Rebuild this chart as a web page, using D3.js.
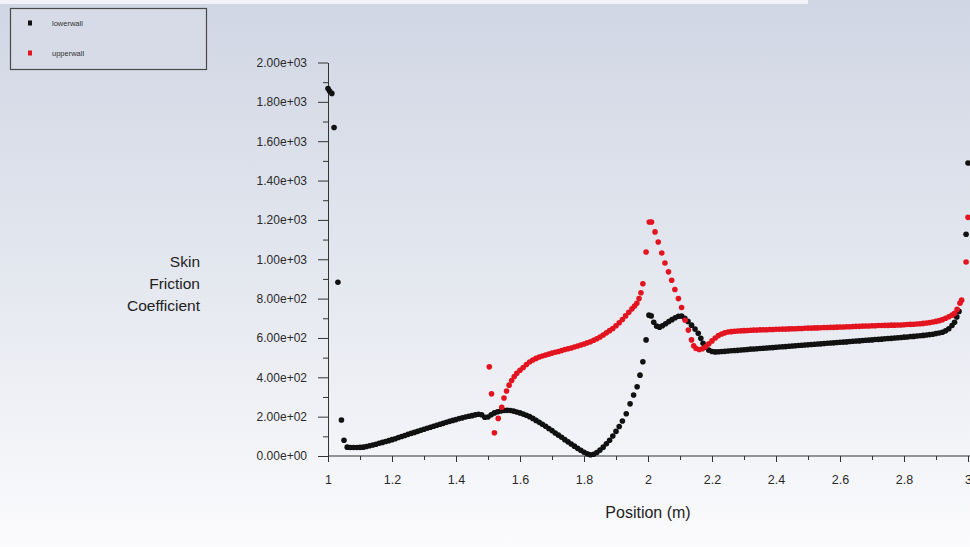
<!DOCTYPE html>
<html>
<head>
<meta charset="utf-8">
<script src="https://cdn.jsdelivr.net/npm/d3@7"></script>
<style>
  html, body { margin: 0; padding: 0; background: #fff; }
  svg { display: block; }
  .tick text { font-family: "Liberation Sans Narrow", "Liberation Sans", Arial, sans-serif; fill: #2a2a2a; }
</style>
</head>
<body>
<svg id="chart" width="970" height="547"></svg>
<script>
// Skin friction along the walls
var seriesNames = ["lowerwall", "upperwall"];
var seriesColors = ["#111111", "#e3141f"];

var lowerwall = [
  [1.000,1868],[1.005,1855],[1.012,1843],[1.019,1670],[1.031,883],[1.042,183],[1.050,80],
  [1.060,45],[1.070,43],[1.080,43],[1.090,43],[1.100,44],[1.110,45],[1.120,48],[1.130,52],[1.140,56],
  [1.150,60],[1.160,65],[1.170,69],[1.180,74],[1.190,78],[1.200,83],[1.210,88],[1.220,94],[1.230,99],
  [1.240,104],[1.250,110],[1.260,115],[1.270,120],[1.280,125],[1.290,131],[1.300,136],[1.310,141],
  [1.320,146],[1.330,151],[1.340,156],[1.350,161],[1.360,166],[1.370,171],[1.380,176],[1.390,181],
  [1.400,185],[1.410,190],[1.420,194],[1.430,198],[1.440,202],[1.450,205],[1.460,209],[1.470,212],
  [1.480,210],[1.490,197],[1.500,198],[1.510,210],[1.520,219],[1.530,225],[1.540,229],[1.550,231],
  [1.560,232],[1.570,231],[1.580,228],[1.590,224],[1.600,219],[1.610,213],[1.620,207],[1.630,200],
  [1.640,191],[1.650,181],[1.660,171],[1.670,161],[1.680,151],[1.690,140],[1.700,129],[1.710,117],
  [1.720,106],[1.730,95],[1.740,83],[1.750,72],[1.760,61],[1.770,50],[1.780,39],[1.790,29],[1.800,19],
  [1.810,11],[1.820,6],[1.830,9],[1.840,18],[1.850,30],[1.860,45],[1.870,62],[1.880,80],[1.890,102],
  [1.900,125],[1.910,150],[1.920,178],[1.932,215],[1.944,265],[1.955,310],[1.966,352],[1.975,411],
  [1.984,479],[1.994,590],[2.003,716],[2.010,712],[2.018,680],[2.027,660],[2.036,655],[2.045,662],
  [2.055,672],[2.065,683],[2.075,693],[2.085,703],[2.095,710],[2.105,711],[2.115,700],[2.125,684],
  [2.136,665],[2.147,645],[2.157,624],[2.165,598],[2.172,573],[2.180,553],[2.190,538],[2.200,531],
  [2.210,529],[2.220,530],[2.230,531],[2.240,532],[2.250,534],[2.260,535],[2.270,536],[2.280,537],
  [2.290,539],[2.300,540],[2.310,541],[2.320,543],[2.330,544],[2.340,545],[2.350,546],[2.360,548],
  [2.370,549],[2.380,550],[2.390,551],[2.400,553],[2.410,554],[2.420,555],[2.430,556],[2.440,558],
  [2.450,559],[2.460,560],[2.470,562],[2.480,563],[2.490,564],[2.500,565],[2.510,567],[2.520,568],
  [2.530,569],[2.540,570],[2.550,572],[2.560,573],[2.570,574],[2.580,575],[2.590,577],[2.600,578],
  [2.610,579],[2.620,580],[2.630,582],[2.640,583],[2.650,584],[2.660,585],[2.670,587],[2.680,588],
  [2.690,589],[2.700,590],[2.710,592],[2.720,593],[2.730,594],[2.740,596],[2.750,597],[2.760,598],
  [2.770,600],[2.780,601],[2.790,602],[2.800,604],[2.810,605],[2.820,607],[2.830,608],[2.840,610],
  [2.850,611],[2.860,613],[2.870,615],[2.880,617],[2.890,619],[2.900,622],[2.910,625],[2.920,629],
  [2.930,636],[2.940,647],[2.950,663],[2.958,680],[2.965,707],[2.972,735],[2.994,1127],[3.000,1489]
];

var upperwall = [
  [1.504,453],[1.511,316],[1.520,118],[1.532,191],[1.543,248],[1.550,295],[1.558,330],[1.566,360],
  [1.574,384],[1.582,404],[1.590,420],[1.600,436],[1.610,450],[1.620,465],[1.630,478],[1.640,488],
  [1.650,496],[1.660,503],[1.670,508],[1.680,513],[1.690,518],[1.700,523],[1.710,527],[1.720,531],
  [1.730,536],[1.740,541],[1.750,545],[1.760,549],[1.770,554],[1.780,559],[1.790,564],[1.800,569],
  [1.810,575],[1.820,581],[1.830,588],[1.840,596],[1.850,605],[1.860,615],[1.870,626],[1.880,637],
  [1.890,648],[1.900,662],[1.910,677],[1.920,694],[1.930,712],[1.940,730],[1.950,748],[1.958,762],
  [1.965,776],[1.972,800],[1.978,830],[1.984,875],[1.994,1037],[2.004,1189],[2.011,1189],[2.022,1139],
  [2.032,1088],[2.043,1032],[2.053,981],[2.064,936],[2.074,893],[2.084,846],[2.095,800],[2.105,755],
  [2.116,690],[2.126,640],[2.136,590],[2.143,560],[2.150,546],[2.160,541],[2.170,545],[2.180,555],
  [2.190,570],[2.200,585],[2.210,600],[2.220,612],[2.230,620],[2.240,626],[2.250,630],[2.260,632],
  [2.270,634],[2.280,635],[2.290,636],[2.300,637],[2.310,638],[2.320,639],[2.330,640],[2.340,640],
  [2.350,641],[2.360,642],[2.370,642],[2.380,643],[2.390,643],[2.400,644],[2.410,644],[2.420,645],
  [2.430,645],[2.440,646],[2.450,647],[2.460,647],[2.470,648],[2.480,648],[2.490,649],[2.500,650],
  [2.510,650],[2.520,651],[2.530,651],[2.540,652],[2.550,653],[2.560,653],[2.570,654],[2.580,654],
  [2.590,655],[2.600,656],[2.610,656],[2.620,657],[2.630,657],[2.640,658],[2.650,659],[2.660,659],
  [2.670,660],[2.680,661],[2.690,661],[2.700,662],[2.710,662],[2.720,663],[2.730,663],[2.740,664],
  [2.750,664],[2.760,665],[2.770,665],[2.780,666],[2.790,666],[2.800,667],[2.810,668],[2.820,669],
  [2.830,670],[2.840,671],[2.850,672],[2.860,674],[2.870,676],[2.880,678],[2.890,681],[2.900,684],
  [2.910,688],[2.920,693],[2.930,700],[2.940,708],[2.950,716],[2.958,725],[2.966,745],[2.975,777],
  [2.980,792],[2.994,986],[3.000,1213]
];

var xMajorTicks = [1, 1.2, 1.4, 1.6, 1.8, 2, 2.2, 2.4, 2.6, 2.8, 3];
var xMinorTicks = [1.1, 1.3, 1.5, 1.7, 1.9, 2.1, 2.3, 2.5, 2.7, 2.9];
var yMajorTicks = [0, 200, 400, 600, 800, 1000, 1200, 1400, 1600, 1800, 2000];
var yMinorTicks = [100, 300, 500, 700, 900, 1100, 1300, 1500, 1700, 1900];
var yTitleLines = ["Skin", "Friction", "Coefficient"];
var xTitle = "Position (m)";

var svg = d3.select("#chart");
var W = 970, H = 547;

// background: grey-blue fading to white
var defs = svg.append("defs");
var grad = defs.append("linearGradient").attr("id", "bg").attr("x1", 0).attr("y1", 0).attr("x2", 0).attr("y2", 1);
grad.append("stop").attr("offset", "0%").attr("stop-color", "#d0d6e4");
grad.append("stop").attr("offset", "55%").attr("stop-color", "#e6e9f0");
grad.append("stop").attr("offset", "100%").attr("stop-color", "#fbfbfd");
svg.append("rect").attr("width", W).attr("height", H).attr("fill", "url(#bg)");
svg.append("rect").attr("width", 808).attr("height", 4).attr("fill", "#f2f3f6");

var x = d3.scaleLinear().domain([1, 3]).range([328, 968]);
var y = d3.scaleLinear().domain([0, 2000]).range([456, 62.5]);

function fmtE(v) {
  return d3.format(".2e")(v).replace(/e([+-])(\d)$/, "e$10$2");
}

// minor ticks first, then major axes with labels
svg.append("g").attr("transform", "translate(0,456)")
  .call(d3.axisBottom(x).tickValues(xMinorTicks).tickSize(4).tickSizeOuter(0).tickFormat(""))
  .call(function(g) { g.select(".domain").remove(); });
svg.append("g").attr("transform", "translate(328,0)")
  .call(d3.axisLeft(y).tickValues(yMinorTicks).tickSize(5).tickSizeOuter(0).tickFormat(""))
  .call(function(g) { g.select(".domain").remove(); });

var xAxis = svg.append("g").attr("transform", "translate(0,456)")
  .call(d3.axisBottom(x).tickValues(xMajorTicks).tickSize(6).tickSizeOuter(0).tickPadding(13).tickFormat(d3.format("")));
xAxis.select(".domain").attr("d", "M328,0H970");
xAxis.selectAll("text").attr("font-size", 12.5);

var yAxis = svg.append("g").attr("transform", "translate(328,0)")
  .call(d3.axisLeft(y).tickValues(yMajorTicks).tickSize(10).tickSizeOuter(0).tickPadding(11).tickFormat(fmtE));
yAxis.selectAll("text").attr("font-size", 12);

svg.selectAll(".domain, .tick line").attr("stroke", "#333");

// points
var series = [lowerwall, upperwall];
series.forEach(function(data, i) {
  svg.append("g").selectAll("circle").data(data).enter().append("circle")
    .attr("cx", function(d) { return x(d[0]); })
    .attr("cy", function(d) { return y(d[1]); })
    .attr("r", 2.8)
    .attr("fill", seriesColors[i]);
});

// titles
svg.append("text")
  .attr("x", 648).attr("y", 518)
  .attr("text-anchor", "middle")
  .attr("font-family", "Liberation Sans, Arial, sans-serif")
  .attr("font-size", 16).attr("fill", "#222")
  .text(xTitle);

svg.append("g").selectAll("text").data(yTitleLines).enter().append("text")
  .attr("x", 200)
  .attr("y", function(d, i) { return 267 + i * 22; })
  .attr("text-anchor", "end")
  .attr("font-family", "Liberation Sans, Arial, sans-serif")
  .attr("font-size", 15.5).attr("fill", "#222")
  .text(function(d) { return d; });

// legend box
var legend = svg.append("g");
legend.append("rect")
  .attr("x", 10.5).attr("y", 8.5).attr("width", 196).attr("height", 61)
  .attr("fill", "#d6dbe7").attr("stroke", "#4a4a4a").attr("stroke-width", 1.2);
var item = legend.selectAll("g.item").data(seriesNames).enter().append("g")
  .attr("transform", function(d, i) { return "translate(30," + (23 + i * 30) + ")"; });
item.append("rect").attr("x", -2).attr("y", -2.5).attr("width", 4).attr("height", 5)
  .attr("fill", function(d, i) { return seriesColors[i]; });
item.append("text").attr("x", 22).attr("y", 2.5)
  .attr("font-family", "Liberation Sans Narrow, Liberation Sans, Arial, sans-serif")
  .attr("font-size", 7.5).attr("fill", "#333")
  .text(function(d) { return d; });
</script>
</body>
</html>
